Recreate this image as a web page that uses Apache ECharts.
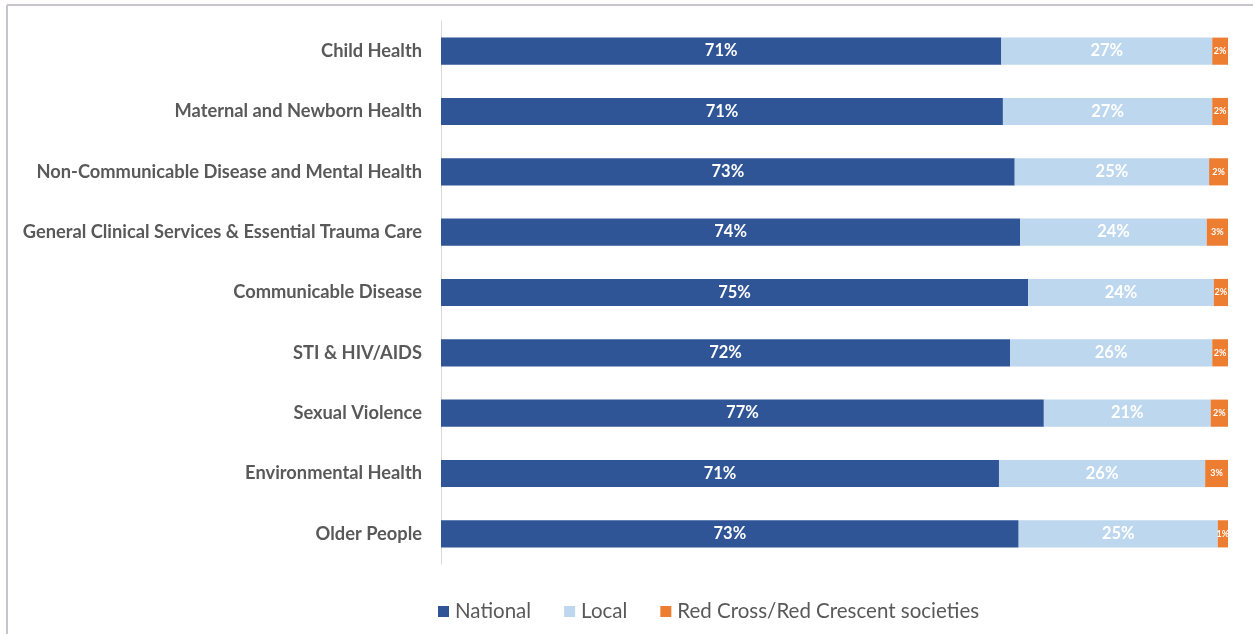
<!DOCTYPE html>
<html>
<head>
<meta charset="utf-8">
<script src="https://cdn.jsdelivr.net/npm/echarts@6/dist/echarts.min.js"></script>
<style>
html,body{margin:0;padding:0;background:#fff;}
#c{width:1253px;height:634px;}
</style>
</head>
<body>
<div id="c"></div>
<script>
const categories = [
  'Child Health',
  'Maternal and Newborn Health',
  'Non-Communicable Disease and Mental Health',
  'General Clinical Services & Essential Trauma Care',
  'Communicable Disease',
  'STI & HIV/AIDS',
  'Sexual Violence',
  'Environmental Health',
  'Older People'
];
const national = [71.2, 71.4, 72.9, 73.6, 74.6, 72.3, 76.6, 70.9, 73.4];
const local    = [26.8, 26.6, 24.7, 23.7, 23.6, 25.7, 21.2, 26.2, 25.3];
const redCross = [2.0, 2.0, 2.4, 2.7, 1.8, 2.0, 2.2, 2.9, 1.3];
const seriesNames = ['National', 'Local', 'Red Cross/Red Crescent societies'];

const FONT = 'Lato';
const pct = p => Math.round(p.value) + '%';

const chart = echarts.init(document.getElementById('c'));
chart.setOption({
  animation: false,
  textStyle: { fontFamily: FONT },
  graphic: [
    { type: 'line', shape: { x1: 7, y1: 5, x2: 1253, y2: 5 }, style: { stroke: '#c9c4cc', lineWidth: 2 } },
    { type: 'line', shape: { x1: 7, y1: 5, x2: 7, y2: 634 }, style: { stroke: '#c9c4cc', lineWidth: 2 } }
  ],
  grid: { left: 441, right: 25, top: 21, bottom: 70, containLabel: false },
  legend: {
    left: 433, top: 596,
    icon: 'rect', itemWidth: 11, itemHeight: 11, itemGap: 33,
    textStyle: { fontFamily: FONT, fontSize: 20.5, color: '#595959', padding: [0, 0, 0, 1] },
    data: seriesNames
  },
  xAxis: { type: 'value', min: 0, max: 100, show: false },
  yAxis: {
    type: 'category', data: categories, inverse: true,
    axisLine: { show: true, lineStyle: { color: '#d9d9d9', width: 1 } },
    axisTick: { show: false },
    axisLabel: { margin: 19, fontFamily: FONT, fontSize: 18.3, fontWeight: 'bold', color: '#595959', padding: [2, 0, 0, 0] }
  },
  series: [
    { name: seriesNames[0], type: 'bar', stack: 't', data: national, barWidth: '45%',
      itemStyle: { color: '#2F5597' },
      label: { show: true, position: 'inside', formatter: pct, color: '#fff', fontFamily: FONT, fontSize: 16.5, fontWeight: 'bold', padding: [2, 0, 0, 0] } },
    { name: seriesNames[1], type: 'bar', stack: 't', data: local, barWidth: '45%',
      itemStyle: { color: '#BDD7EE' },
      label: { show: true, position: 'inside', formatter: pct, color: '#fff', fontFamily: FONT, fontSize: 16.5, fontWeight: 'bold', padding: [2, 0, 0, 0] } },
    { name: seriesNames[2], type: 'bar', stack: 't', data: redCross, barWidth: '45%',
      itemStyle: { color: '#ED7D31' },
      label: { show: true, position: 'inside', formatter: pct, color: '#fff', fontFamily: FONT, fontSize: 9, fontWeight: 'bold' } }
  ]
});
</script>
</body>
</html>
